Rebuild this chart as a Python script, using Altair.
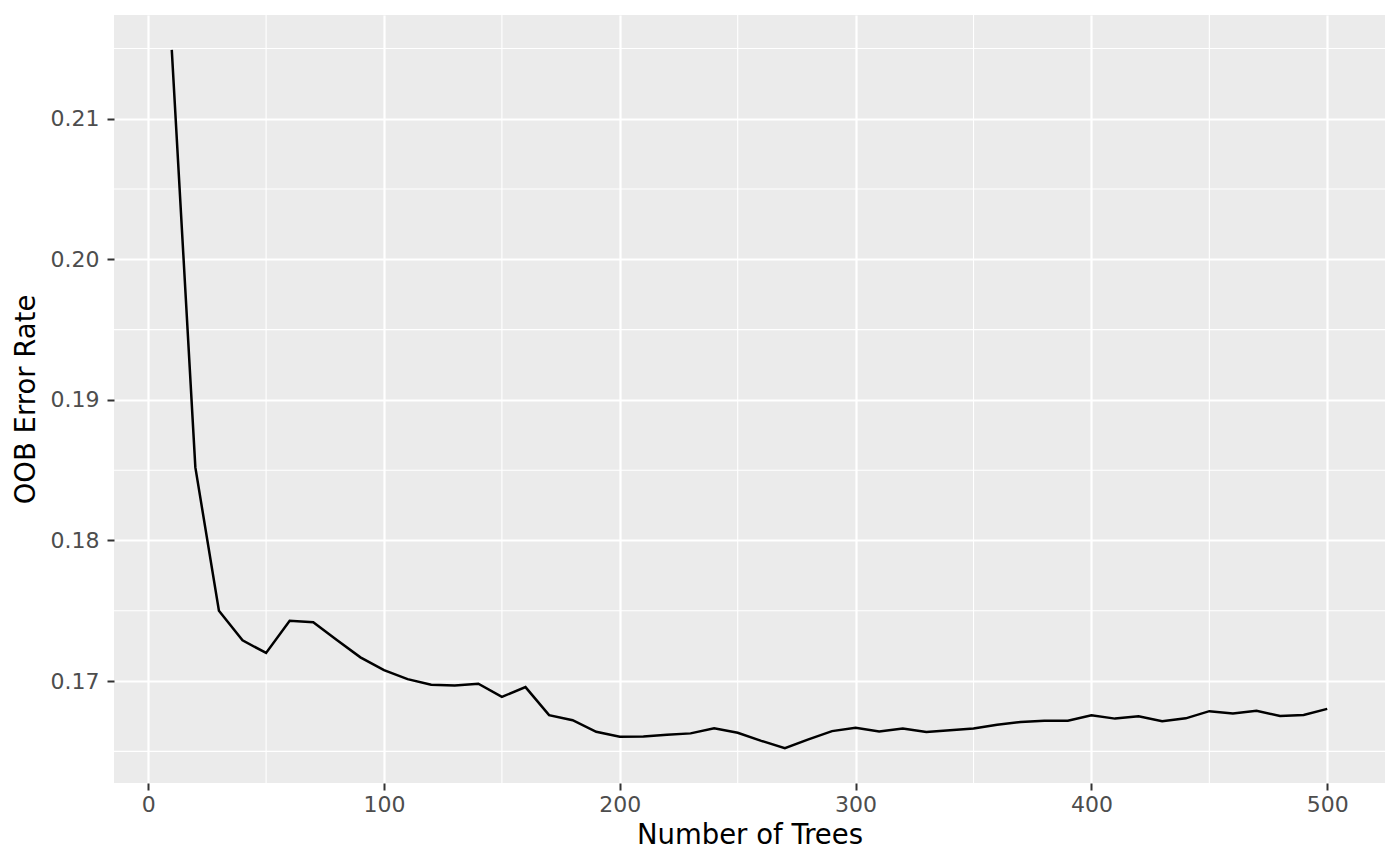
import altair as alt
import pandas as pd

trees = list(range(10, 510, 10))
oob_error = [
    0.2149, 0.1852, 0.1750, 0.1729, 0.1720, 0.17429, 0.17418, 0.17292, 0.17169, 0.17078,
    0.17014, 0.16974, 0.16969, 0.16981, 0.16888, 0.16957, 0.16758, 0.16722, 0.16639, 0.16604,
    0.16606, 0.16618, 0.16628, 0.16665, 0.16632, 0.16575, 0.16523, 0.16585, 0.16644, 0.16668,
    0.16642, 0.16663, 0.16637, 0.16651, 0.16663, 0.16690, 0.16709, 0.16718, 0.16718, 0.16757,
    0.16733, 0.16750, 0.16714, 0.16735, 0.16786, 0.16769, 0.16788, 0.16752, 0.16759, 0.16802,
]
x_ticks = [0, 100, 200, 300, 400, 500]
y_ticks = [0.17, 0.18, 0.19, 0.20, 0.21]
x_minor = [50, 150, 250, 350, 450]
y_minor = [0.165, 0.175, 0.185, 0.195, 0.205, 0.215]

df = pd.DataFrame({"trees": trees, "err": oob_error})
xm = pd.DataFrame({"v": x_minor})
ym = pd.DataFrame({"v": y_minor})

FONT = "DejaVu Sans"
xscale = alt.Scale(domain=[-14.5, 524.5], nice=False, zero=False)
yscale = alt.Scale(domain=[0.16275, 0.21738], nice=False, zero=False)

common = dict(grid=True, gridColor="white", gridWidth=2.2, domain=False,
              tickColor="#333333", tickSize=7, tickWidth=2,
              labelColor="#4D4D4D", labelFontSize=22, labelFont=FONT,
              titleFont=FONT, titleFontSize=27.5, titleFontWeight="normal",
              titleColor="black")

xaxis = alt.Axis(values=x_ticks, title="Number of Trees", labelPadding=4,
                 titlePadding=6, **common)
yaxis = alt.Axis(values=y_ticks, title="OOB Error Rate", format=".2f",
                 labelPadding=8, titlePadding=10, **common)

vminor = alt.Chart(xm).mark_rule(color="white", strokeWidth=1.1).encode(
    x=alt.X("v:Q", scale=xscale, axis=xaxis))
hminor = alt.Chart(ym).mark_rule(color="white", strokeWidth=1.1).encode(
    y=alt.Y("v:Q", scale=yscale, axis=yaxis))
line = alt.Chart(df).mark_line(color="black", strokeWidth=2.5).encode(
    x=alt.X("trees:Q", scale=xscale, axis=xaxis),
    y=alt.Y("err:Q", scale=yscale, axis=yaxis),
)

chart = alt.layer(vminor, hminor, line).properties(
    width=1271, height=768,
    autosize=alt.AutoSizeParams(type="none"),
    padding={"left": 106, "top": 7, "right": 0, "bottom": 75},
).configure_view(fill="#EBEBEB", stroke=None)

chart.save("out.html", embed_options={"renderer": "svg", "actions": False})
